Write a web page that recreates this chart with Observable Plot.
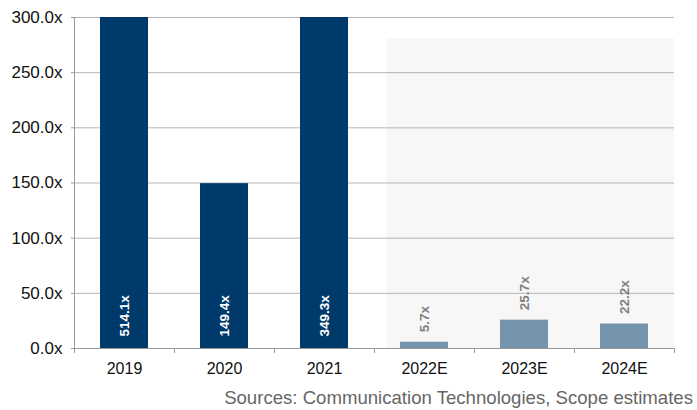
<!DOCTYPE html>
<html>
<head>
<meta charset="utf-8">
<script src="https://cdn.jsdelivr.net/npm/d3@7"></script>
<script src="https://cdn.jsdelivr.net/npm/@observablehq/plot@0.6"></script>
<style>
  html, body { margin: 0; padding: 0; background: #fff; }
  #wrap { width: 697px; font-family: "Liberation Sans", Arial, sans-serif; }
  #caption { text-align: right; padding-right: 4px; font-size: 18.6px; color: #666; line-height: 20px; margin-top: 8px; }
</style>
</head>
<body>
<div id="wrap">
  <div id="chart"></div>
  <div id="caption">Sources: Communication Technologies, Scope estimates</div>
</div>
<script>
const years = ["2019", "2020", "2021", "2022E", "2023E", "2024E"];
const values = [514.1, 149.4, 349.3, 5.7, 25.7, 22.2];
const forecast = [false, false, false, true, true, true];
const yTicks = [0, 50, 100, 150, 200, 250, 300];
const shadeTop = 281;

const data = years.map((y, i) => ({year: y, value: values[i], forecast: forecast[i]}));
const actual = data.filter(d => !d.forecast);
const est = data.filter(d => d.forecast);
const fmt = v => v.toFixed(1) + "x";

const chart = Plot.plot({
  width: 697,
  height: 380,
  marginLeft: 74,
  marginRight: 23,
  marginTop: 17,
  marginBottom: 32,
  style: {fontFamily: "'Liberation Sans', Arial, sans-serif", background: "#fff"},
  x: {domain: years, padding: 0, axis: null},
  y: {domain: [0, 300], axis: null},
  marks: [
    // forecast shading
    Plot.barY(est.slice(0, 1), {x: "year", y: () => shadeTop, fill: "#f7f7f7", insetLeft: 12, insetRight: 0, shapeRendering: "crispEdges"}),
    Plot.barY(est.slice(1), {x: "year", y: () => shadeTop, fill: "#f7f7f7", inset: 0, shapeRendering: "crispEdges"}),
    // gridlines
    Plot.ruleY(yTicks, {stroke: "#b5b5b5", strokeWidth: 1}),
    // y axis
    Plot.axisY({ticks: yTicks, tickSize: 3, tickPadding: 9, tickFormat: fmt, stroke: "#999", fontSize: 17, fill: "#111", label: null}),
    // bars
    Plot.barY(actual, {x: "year", y: "value", fill: "#003a6b", insetLeft: 26, insetRight: 26, clip: true}),
    Plot.barY(est, {x: "year", y: "value", fill: "#7594ad", insetLeft: 26, insetRight: 26}),
    // axis lines
    Plot.ruleY([0], {stroke: "#999"}),
    Plot.frame({anchor: "left", stroke: "#999"}),
    // x axis boundary ticks
    Plot.axisX({tickSize: 5, tickFormat: () => "", dx: -50, stroke: "#999", label: null}),
    Plot.axisX({ticks: ["2024E"], tickSize: 5, tickFormat: () => "", dx: 50, stroke: "#999", label: null}),
    // x labels
    Plot.axisX({tickSize: 0, tickPadding: 14, fontSize: 16, fill: "#111", label: null}),
    // value labels
    Plot.text(actual, {x: "year", y: () => 0, text: d => fmt(d.value), rotate: -90, textAnchor: "start", dy: -12, fill: "#fff", fontWeight: "bold", fontSize: 13.5}),
    Plot.text(est, {x: "year", y: "value", text: d => fmt(d.value), rotate: -90, textAnchor: "start", dy: -10, fill: "#808080", fontWeight: "bold", fontSize: 13.5})
  ]
});
document.getElementById("chart").appendChild(chart);
</script>
</body>
</html>
